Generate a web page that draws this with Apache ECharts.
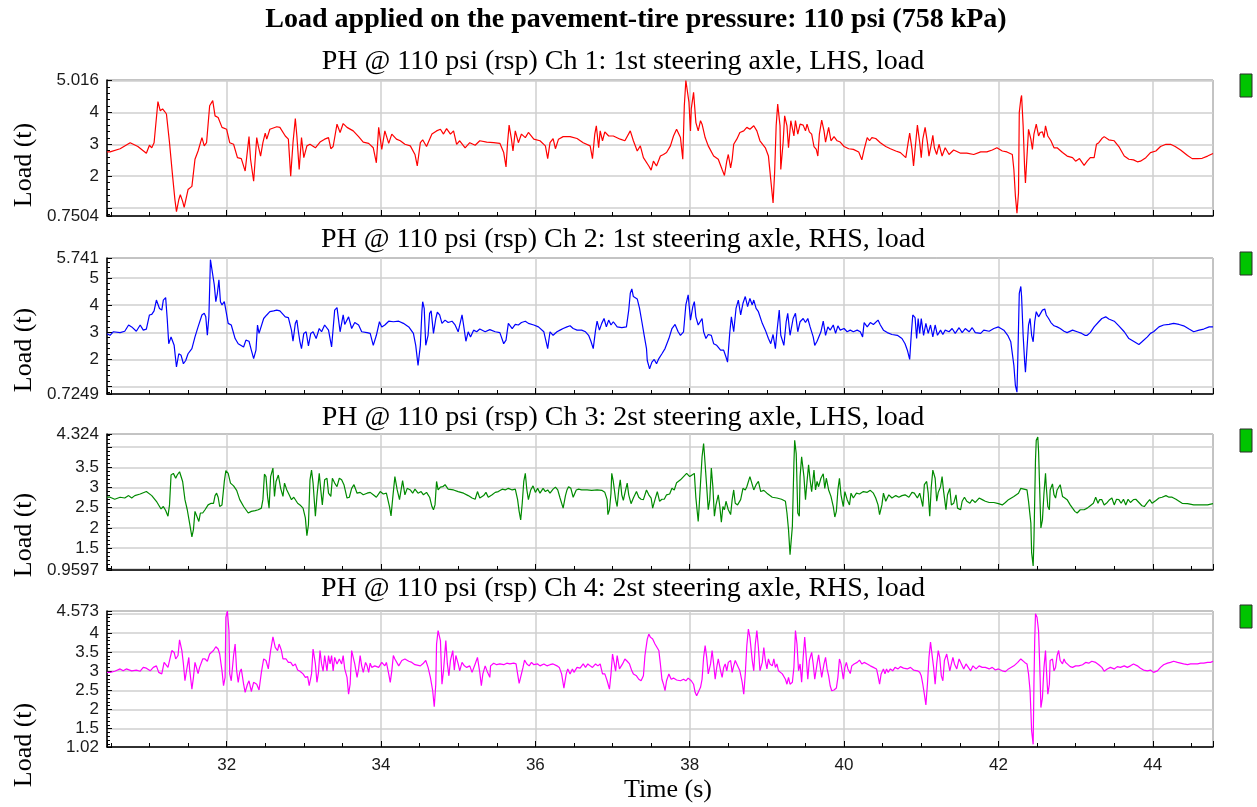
<!DOCTYPE html>
<html>
<head>
<meta charset="utf-8">
<script src="https://cdn.jsdelivr.net/npm/echarts@6/dist/echarts.min.js"></script>
<style>
  html, body { margin: 0; padding: 0; background: #fff; }
  #chart { width: 1257px; height: 807px; }
</style>
</head>
<body>
<div id="chart"></div>
<script>
// 数据：时间 (s) 与载荷 (t)
const mainTitle = 'Load applied on the pavement-tire pressure: 110 psi (758 kPa)';
const panelTitles = [
    'PH @ 110 psi (rsp) Ch 1: 1st steering axle, LHS, load',
    'PH @ 110 psi (rsp) Ch 2: 1st steering axle, RHS, load',
    'PH @ 110 psi (rsp) Ch 3: 2st steering axle, LHS, load',
    'PH @ 110 psi (rsp) Ch 4: 2st steering axle, RHS, load'
];
const lineColors = ['#ff0000', '#0000ff', '#008a00', '#ff00ff'];
const timeRange = [30.45, 44.78];
const yMin = [0.7504, 0.7249, 0.9597, 1.02];
const yMax = [5.016, 5.741, 4.324, 4.573];
const ySplit = [4, 5, 7, 7];
const yHidden = [[1, 5], [1], [1, 4], [4.5]];   // 靠近边界的标签不显示

const ch1 = [[30.45,2.76],[30.49,2.76],[30.62,2.86],[30.75,3.05],[30.85,2.93],[30.96,2.72],[31.00,2.97],[31.03,2.89],[31.06,3.05],[31.11,4.34],[31.14,4.05],[31.17,4.11],[31.20,4.02],[31.22,3.95],[31.26,3.05],[31.30,2.0],[31.33,1.26],[31.35,0.89],[31.38,1.26],[31.40,1.42],[31.43,1.21],[31.45,1.02],[31.47,1.05],[31.50,1.58],[31.55,1.68],[31.59,2.53],[31.63,2.79],[31.68,3.21],[31.71,2.95],[31.74,3.05],[31.78,4.21],[31.82,4.37],[31.85,3.89],[31.89,3.84],[31.94,3.53],[32.00,3.47],[32.04,3.05],[32.09,3.0],[32.14,2.58],[32.19,2.55],[32.24,2.16],[32.26,2.11],[32.29,3.24],[32.31,2.53],[32.35,1.84],[32.39,3.21],[32.41,2.95],[32.44,2.63],[32.47,3.05],[32.50,3.35],[32.52,3.16],[32.56,3.47],[32.65,3.55],[32.69,3.53],[32.76,3.26],[32.80,3.16],[32.83,2.0],[32.86,3.05],[32.89,3.81],[32.91,3.26],[32.94,2.21],[32.97,3.21],[33.00,2.58],[33.04,2.95],[33.08,3.0],[33.15,2.89],[33.21,3.07],[33.27,3.16],[33.32,3.21],[33.35,2.86],[33.38,2.93],[33.43,3.63],[33.47,3.37],[33.51,3.65],[33.56,3.53],[33.64,3.42],[33.71,3.24],[33.77,3.07],[33.84,3.03],[33.90,2.89],[33.94,2.42],[33.97,3.53],[34.01,2.84],[34.05,3.42],[34.10,3.03],[34.14,3.32],[34.20,3.16],[34.25,3.11],[34.31,3.0],[34.38,2.95],[34.44,2.68],[34.47,2.32],[34.51,3.05],[34.54,3.14],[34.59,2.93],[34.66,3.32],[34.72,3.42],[34.77,3.47],[34.81,3.32],[34.85,3.49],[34.90,3.32],[34.94,3.42],[34.98,3.0],[35.02,3.11],[35.09,2.89],[35.15,3.05],[35.22,2.97],[35.28,3.11],[35.37,3.07],[35.46,3.05],[35.54,3.03],[35.59,2.74],[35.62,2.29],[35.64,3.05],[35.66,3.6],[35.69,3.16],[35.71,2.79],[35.74,3.42],[35.78,3.05],[35.82,3.32],[35.87,3.21],[35.91,3.37],[35.98,3.16],[36.06,3.11],[36.13,2.95],[36.16,2.55],[36.19,3.05],[36.23,3.18],[36.26,2.86],[36.30,3.16],[36.36,3.24],[36.45,3.24],[36.54,3.18],[36.62,3.05],[36.71,2.95],[36.74,2.55],[36.77,3.32],[36.79,3.58],[36.82,2.89],[36.84,3.42],[36.87,3.11],[36.90,3.39],[36.95,3.26],[37.01,3.26],[37.10,3.16],[37.16,3.11],[37.23,3.42],[37.27,3.11],[37.32,2.79],[37.36,2.95],[37.40,2.58],[37.47,2.32],[37.50,2.19],[37.53,2.47],[37.57,2.32],[37.62,2.63],[37.66,2.68],[37.70,2.74],[37.75,2.95],[37.79,3.26],[37.83,3.47],[37.88,3.21],[37.91,2.53],[37.93,4.21],[37.95,5.0],[37.97,5.0],[37.99,4.32],[38.01,3.42],[38.02,4.11],[38.05,4.63],[38.08,3.68],[38.11,3.42],[38.14,3.74],[38.16,3.63],[38.20,3.21],[38.24,2.95],[38.31,2.63],[38.37,2.53],[38.42,2.21],[38.45,2.02],[38.48,2.47],[38.50,2.68],[38.53,2.26],[38.55,2.53],[38.57,3.0],[38.61,3.16],[38.65,3.37],[38.70,3.42],[38.74,3.53],[38.78,3.47],[38.83,3.58],[38.87,3.42],[38.91,3.11],[38.98,2.89],[39.02,2.63],[39.05,1.89],[39.08,1.16],[39.10,2.11],[39.12,3.58],[39.14,4.26],[39.17,3.58],[39.18,2.21],[39.21,3.05],[39.23,3.89],[39.26,3.58],[39.28,2.89],[39.31,3.74],[39.35,3.26],[39.37,3.74],[39.40,3.32],[39.43,3.63],[39.47,3.6],[39.50,3.42],[39.52,3.63],[39.55,3.39],[39.58,3.32],[39.61,2.93],[39.64,2.84],[39.66,2.63],[39.68,3.32],[39.71,3.76],[39.74,3.42],[39.76,3.07],[39.80,3.53],[39.83,3.11],[39.87,3.24],[39.91,3.11],[39.95,3.07],[40.00,2.93],[40.06,2.86],[40.12,2.84],[40.19,2.76],[40.23,2.51],[40.26,2.84],[40.30,3.21],[40.33,3.11],[40.36,3.21],[40.41,3.18],[40.47,3.05],[40.54,2.93],[40.60,2.86],[40.67,2.79],[40.73,2.74],[40.80,2.58],[40.83,3.05],[40.85,3.35],[40.88,2.84],[40.90,2.32],[40.92,2.84],[40.95,3.6],[40.98,3.05],[41.00,2.58],[41.02,3.16],[41.05,3.53],[41.08,3.05],[41.10,2.63],[41.13,3.0],[41.15,3.28],[41.17,2.89],[41.20,2.68],[41.23,3.0],[41.27,2.63],[41.31,2.89],[41.36,2.68],[41.42,2.82],[41.51,2.72],[41.59,2.72],[41.68,2.68],[41.77,2.76],[41.85,2.76],[41.92,2.82],[41.98,2.89],[42.05,2.79],[42.11,2.76],[42.18,2.68],[42.20,2.21],[42.22,1.37],[42.24,0.84],[42.26,1.47],[42.27,4.0],[42.29,4.42],[42.30,4.53],[42.32,3.58],[42.34,2.21],[42.35,1.79],[42.37,2.63],[42.39,3.47],[42.42,3.16],[42.44,2.84],[42.46,3.32],[42.49,3.63],[42.52,3.26],[42.54,3.37],[42.57,3.39],[42.59,3.21],[42.61,3.58],[42.64,3.26],[42.68,3.11],[42.72,2.89],[42.76,2.89],[42.83,2.74],[42.89,2.63],[42.96,2.58],[43.00,2.47],[43.05,2.55],[43.11,2.34],[43.15,2.47],[43.19,2.58],[43.24,2.58],[43.27,3.0],[43.30,3.05],[43.34,3.18],[43.37,3.24],[43.43,3.14],[43.50,3.11],[43.56,2.93],[43.63,2.63],[43.69,2.53],[43.75,2.51],[43.80,2.45],[43.84,2.47],[43.91,2.58],[43.97,2.74],[44.04,2.79],[44.10,2.93],[44.17,3.0],[44.23,3.0],[44.29,2.93],[44.36,2.82],[44.45,2.65],[44.51,2.55],[44.58,2.55],[44.64,2.56],[44.71,2.63],[44.78,2.71]];

const ch2 = [[30.45,2.95],[30.49,2.89],[30.53,3.02],[30.62,2.99],[30.68,3.04],[30.73,3.27],[30.77,3.2],[30.83,3.04],[30.88,3.27],[30.92,3.08],[30.96,3.12],[31.00,3.64],[31.03,3.66],[31.06,3.79],[31.09,4.19],[31.13,3.88],[31.16,3.82],[31.18,4.19],[31.21,4.28],[31.23,3.51],[31.25,2.58],[31.28,2.83],[31.30,2.89],[31.32,2.52],[31.35,1.72],[31.38,2.21],[31.41,2.15],[31.44,1.84],[31.47,1.96],[31.50,2.21],[31.55,2.40],[31.59,2.83],[31.63,3.2],[31.68,3.64],[31.71,3.7],[31.73,3.57],[31.75,2.89],[31.77,3.57],[31.79,5.68],[31.81,5.62],[31.84,4.75],[31.86,4.13],[31.88,4.44],[31.90,4.94],[31.92,4.13],[31.94,4.01],[31.97,4.13],[31.99,3.82],[32.02,3.33],[32.06,3.27],[32.11,2.77],[32.15,2.58],[32.22,2.46],[32.25,2.71],[32.29,2.67],[32.32,2.34],[32.35,2.03],[32.38,2.34],[32.40,3.27],[32.42,2.96],[32.48,3.51],[32.52,3.64],[32.56,3.76],[32.61,3.79],[32.65,3.82],[32.69,3.79],[32.76,3.57],[32.80,3.54],[32.84,3.08],[32.86,2.67],[32.89,3.33],[32.91,3.45],[32.93,3.02],[32.95,2.65],[32.97,2.40],[33.00,2.96],[33.03,3.02],[33.06,2.50],[33.09,2.96],[33.12,3.02],[33.16,2.77],[33.20,3.14],[33.23,3.02],[33.27,3.27],[33.32,3.08],[33.36,2.46],[33.40,3.82],[33.43,3.91],[33.47,3.02],[33.51,3.64],[33.53,3.29],[33.58,3.57],[33.62,3.14],[33.66,3.36],[33.71,3.27],[33.75,3.02],[33.82,2.99],[33.86,2.96],[33.90,2.52],[33.92,2.46],[33.94,2.89],[33.98,3.39],[34.01,3.2],[34.05,3.27],[34.10,3.41],[34.16,3.39],[34.23,3.41],[34.29,3.33],[34.36,3.2],[34.42,2.96],[34.45,2.52],[34.48,1.78],[34.51,2.52],[34.53,3.76],[34.54,4.13],[34.56,3.88],[34.58,2.52],[34.61,2.89],[34.63,3.70],[34.65,3.79],[34.68,2.96],[34.71,3.51],[34.73,3.74],[34.76,3.64],[34.79,3.33],[34.83,3.45],[34.87,3.36],[34.92,3.41],[34.96,3.27],[35.00,3.02],[35.05,3.64],[35.07,3.27],[35.10,2.67],[35.13,3.02],[35.16,2.83],[35.20,3.08],[35.24,3.02],[35.28,3.12],[35.35,3.02],[35.41,3.10],[35.48,3.02],[35.54,2.99],[35.59,2.58],[35.62,2.71],[35.65,3.33],[35.70,3.14],[35.74,3.29],[35.78,3.27],[35.82,3.36],[35.87,3.41],[35.91,3.33],[35.98,3.27],[36.04,3.2],[36.11,3.02],[36.14,2.65],[36.16,2.40],[36.19,3.02],[36.23,2.89],[36.28,3.02],[36.32,3.08],[36.36,3.14],[36.41,3.2],[36.45,3.24],[36.49,3.14],[36.54,3.08],[36.60,3.08],[36.65,3.02],[36.69,2.89],[36.72,2.67],[36.75,2.40],[36.78,3.08],[36.80,3.41],[36.83,3.08],[36.86,3.33],[36.89,3.51],[36.92,3.2],[36.95,3.45],[36.98,3.27],[37.01,3.39],[37.06,3.2],[37.12,3.17],[37.18,3.2],[37.21,3.82],[37.23,4.44],[37.25,4.6],[37.27,4.32],[37.32,4.23],[37.35,3.88],[37.38,3.39],[37.41,2.89],[37.44,2.40],[37.45,1.96],[37.48,1.65],[37.51,1.90],[37.54,2.0],[37.57,1.84],[37.60,2.03],[37.64,2.21],[37.68,2.40],[37.73,2.77],[37.77,3.14],[37.81,3.29],[37.85,3.02],[37.88,2.89],[37.92,3.02],[37.95,4.01],[37.98,4.38],[38.01,3.45],[38.04,3.95],[38.06,4.13],[38.08,3.57],[38.11,3.27],[38.16,3.51],[38.18,3.02],[38.21,2.77],[38.24,2.92],[38.28,2.89],[38.31,2.58],[38.35,2.52],[38.40,2.34],[38.44,2.34],[38.47,2.09],[38.49,1.90],[38.52,3.02],[38.54,3.57],[38.57,3.02],[38.60,3.88],[38.63,4.19],[38.66,3.64],[38.69,4.07],[38.72,4.32],[38.75,3.95],[38.78,4.25],[38.81,4.01],[38.83,4.19],[38.86,3.88],[38.89,3.76],[38.94,3.33],[38.98,3.08],[39.02,2.77],[39.05,2.58],[39.08,2.92],[39.11,2.40],[39.13,3.02],[39.16,3.82],[39.18,2.89],[39.22,2.52],[39.25,3.39],[39.27,3.70],[39.30,2.89],[39.34,3.51],[39.37,3.70],[39.40,3.02],[39.43,3.39],[39.47,3.51],[39.50,3.36],[39.53,3.51],[39.56,3.2],[39.60,2.83],[39.62,2.52],[39.65,2.67],[39.67,2.65],[39.70,3.02],[39.73,3.41],[39.76,2.89],[39.79,3.2],[39.82,3.08],[39.86,3.27],[39.89,2.96],[39.92,3.24],[39.95,3.08],[40.00,3.14],[40.04,3.02],[40.08,3.08],[40.12,3.02],[40.17,3.08],[40.21,3.02],[40.24,2.83],[40.26,3.36],[40.30,3.2],[40.34,3.36],[40.38,3.29],[40.44,3.45],[40.47,3.27],[40.51,3.08],[40.56,2.99],[40.62,2.92],[40.69,2.89],[40.75,2.77],[40.79,2.58],[40.82,2.34],[40.85,2.0],[40.87,2.89],[40.89,3.64],[40.92,3.54],[40.94,2.77],[40.96,3.51],[40.98,2.96],[41.00,3.51],[41.03,2.89],[41.06,3.33],[41.09,2.96],[41.12,3.27],[41.15,2.83],[41.18,3.27],[41.21,2.89],[41.25,3.08],[41.28,2.92],[41.31,3.08],[41.36,3.02],[41.40,3.14],[41.44,2.96],[41.49,3.17],[41.53,2.99],[41.57,3.14],[41.62,3.02],[41.66,3.17],[41.70,2.99],[41.77,2.96],[41.81,3.08],[41.88,3.04],[41.94,3.14],[42.00,3.2],[42.07,3.08],[42.12,2.89],[42.16,2.65],[42.20,1.78],[42.22,1.03],[42.24,0.79],[42.25,1.90],[42.27,4.44],[42.29,4.69],[42.30,4.32],[42.32,2.89],[42.34,1.90],[42.35,1.53],[42.37,2.40],[42.39,3.27],[42.41,3.51],[42.43,2.89],[42.45,2.65],[42.47,3.39],[42.49,3.76],[42.52,3.57],[42.54,3.51],[42.57,3.82],[42.60,3.86],[42.62,3.64],[42.65,3.51],[42.68,3.36],[42.72,3.24],[42.76,3.2],[42.80,3.14],[42.85,3.04],[42.89,2.99],[42.96,3.08],[43.02,3.02],[43.08,2.96],[43.12,2.89],[43.15,2.89],[43.19,2.99],[43.24,3.2],[43.30,3.39],[43.34,3.51],[43.39,3.57],[43.43,3.49],[43.50,3.41],[43.56,3.24],[43.63,3.02],[43.69,2.77],[43.75,2.67],[43.82,2.55],[43.86,2.65],[43.93,2.83],[43.97,2.96],[44.01,3.02],[44.08,3.2],[44.14,3.27],[44.21,3.29],[44.27,3.33],[44.34,3.29],[44.40,3.24],[44.47,3.12],[44.53,3.02],[44.60,3.08],[44.66,3.12],[44.73,3.2],[44.78,3.2]];

const ch3 = [[30.45,2.76],[30.49,2.76],[30.55,2.71],[30.62,2.76],[30.68,2.74],[30.73,2.80],[30.77,2.74],[30.81,2.80],[30.88,2.84],[30.96,2.90],[31.03,2.80],[31.09,2.66],[31.15,2.47],[31.18,2.53],[31.21,2.43],[31.24,2.29],[31.26,2.57],[31.28,3.31],[31.31,3.35],[31.34,3.23],[31.36,3.31],[31.39,3.39],[31.43,3.15],[31.46,2.70],[31.49,2.45],[31.52,2.12],[31.55,1.78],[31.57,1.96],[31.59,2.41],[31.61,2.45],[31.64,2.16],[31.66,2.37],[31.69,2.37],[31.72,2.45],[31.76,2.57],[31.80,2.61],[31.83,2.61],[31.85,2.80],[31.87,2.86],[31.89,2.76],[31.91,2.53],[31.94,2.57],[31.97,3.15],[31.99,3.42],[32.02,3.35],[32.05,3.11],[32.09,3.04],[32.13,2.93],[32.17,2.70],[32.22,2.53],[32.28,2.37],[32.32,2.41],[32.37,2.43],[32.41,2.45],[32.45,2.49],[32.47,2.70],[32.49,3.33],[32.51,3.27],[32.53,2.78],[32.55,2.49],[32.57,3.27],[32.60,3.48],[32.62,2.78],[32.64,3.15],[32.67,3.31],[32.70,2.98],[32.73,2.78],[32.75,3.11],[32.78,2.94],[32.81,2.82],[32.84,2.70],[32.87,2.76],[32.92,2.61],[32.95,2.57],[32.99,2.49],[33.02,2.25],[33.04,1.81],[33.06,2.08],[33.08,3.19],[33.10,3.43],[33.12,3.11],[33.15,2.29],[33.17,2.78],[33.20,3.35],[33.22,2.94],[33.24,2.57],[33.27,3.19],[33.30,3.23],[33.32,2.86],[33.35,2.78],[33.37,3.23],[33.40,3.11],[33.43,3.02],[33.46,3.23],[33.49,3.19],[33.52,3.07],[33.56,2.74],[33.59,2.76],[33.62,2.98],[33.65,3.07],[33.69,2.86],[33.73,2.88],[33.77,2.82],[33.82,2.86],[33.86,2.88],[33.90,2.82],[33.94,2.76],[33.99,2.90],[34.03,2.84],[34.07,2.86],[34.11,2.53],[34.13,2.30],[34.15,2.70],[34.18,3.27],[34.21,2.94],[34.24,2.70],[34.28,3.17],[34.31,2.82],[34.34,2.98],[34.38,2.94],[34.41,2.86],[34.44,2.96],[34.48,2.86],[34.52,2.90],[34.55,2.82],[34.59,2.88],[34.63,2.76],[34.66,2.53],[34.68,2.45],[34.70,2.57],[34.72,3.15],[34.74,2.94],[34.77,3.01],[34.80,3.02],[34.83,3.07],[34.87,2.96],[34.94,2.94],[35.00,2.90],[35.07,2.86],[35.13,2.80],[35.18,2.74],[35.22,2.71],[35.25,2.90],[35.28,2.74],[35.33,2.80],[35.36,2.88],[35.39,2.76],[35.44,2.82],[35.48,2.88],[35.52,2.90],[35.57,2.96],[35.61,2.94],[35.65,2.98],[35.70,2.94],[35.74,2.96],[35.77,2.70],[35.79,2.41],[35.81,2.20],[35.83,2.61],[35.85,3.15],[35.87,3.35],[35.89,2.94],[35.91,2.70],[35.94,2.94],[35.97,3.04],[36.00,2.88],[36.03,2.98],[36.06,2.86],[36.10,2.98],[36.13,2.90],[36.16,2.94],[36.19,2.86],[36.23,2.96],[36.26,3.01],[36.29,2.94],[36.32,2.74],[36.36,2.49],[36.39,2.80],[36.41,2.94],[36.43,3.02],[36.46,2.98],[36.49,2.76],[36.53,2.94],[36.56,2.96],[36.60,2.94],[36.67,2.94],[36.73,2.93],[36.80,2.94],[36.86,2.93],[36.90,2.88],[36.93,2.70],[36.94,2.33],[36.96,2.45],[36.98,2.86],[36.99,3.35],[37.01,3.15],[37.04,2.70],[37.06,2.53],[37.08,2.94],[37.10,3.19],[37.12,2.82],[37.14,2.68],[37.16,2.86],[37.19,3.11],[37.21,2.82],[37.24,2.60],[37.27,2.74],[37.31,2.90],[37.34,2.76],[37.37,2.71],[37.40,2.70],[37.44,2.94],[37.47,2.82],[37.50,2.74],[37.52,2.49],[37.55,2.70],[37.58,2.90],[37.61,2.66],[37.64,2.71],[37.67,2.71],[37.70,2.82],[37.74,2.84],[37.77,2.98],[37.80,2.94],[37.83,3.12],[37.88,3.19],[37.92,3.27],[37.96,3.35],[38.00,3.27],[38.03,3.31],[38.06,3.35],[38.08,2.74],[38.11,2.16],[38.12,2.45],[38.14,3.11],[38.16,3.76],[38.18,4.09],[38.19,3.84],[38.22,3.02],[38.24,2.45],[38.26,2.70],[38.28,3.48],[38.30,3.02],[38.32,2.29],[38.34,2.57],[38.37,2.82],[38.39,2.53],[38.41,2.14],[38.43,2.53],[38.45,2.45],[38.47,2.66],[38.50,2.45],[38.53,2.33],[38.55,2.70],[38.57,2.94],[38.59,2.61],[38.62,2.57],[38.66,2.70],[38.69,2.98],[38.72,2.94],[38.74,3.02],[38.78,3.27],[38.80,3.29],[38.83,2.94],[38.86,3.07],[38.89,3.15],[38.92,2.90],[38.96,2.93],[39.00,2.86],[39.07,2.76],[39.13,2.74],[39.19,2.71],[39.24,2.66],[39.26,2.37],[39.28,1.96],[39.30,1.34],[39.33,2.04],[39.35,3.60],[39.36,4.17],[39.38,3.84],[39.40,2.37],[39.42,2.29],[39.43,3.27],[39.45,3.76],[39.48,3.27],[39.50,2.70],[39.52,3.15],[39.54,3.56],[39.56,3.19],[39.58,2.90],[39.61,3.43],[39.63,2.94],[39.65,3.15],[39.67,3.02],[39.70,3.23],[39.73,3.34],[39.75,2.98],[39.77,3.23],[39.80,2.94],[39.83,2.78],[39.86,2.53],[39.88,2.27],[39.90,2.41],[39.92,2.94],[39.94,3.23],[39.96,2.82],[39.99,2.53],[40.01,2.90],[40.04,2.70],[40.07,2.57],[40.09,2.86],[40.12,2.74],[40.16,2.86],[40.20,2.84],[40.25,2.90],[40.30,2.88],[40.34,2.93],[40.38,2.86],[40.41,2.74],[40.44,2.57],[40.46,2.33],[40.49,2.57],[40.51,2.86],[40.54,2.66],[40.58,2.82],[40.62,2.74],[40.67,2.80],[40.71,2.76],[40.75,2.80],[40.79,2.82],[40.84,2.76],[40.88,2.88],[40.91,2.86],[40.95,2.74],[40.98,2.86],[41.00,2.70],[41.02,2.53],[41.04,3.07],[41.07,3.15],[41.09,2.86],[41.11,2.29],[41.13,3.02],[41.15,3.43],[41.18,3.23],[41.20,2.66],[41.22,2.88],[41.25,3.02],[41.27,3.27],[41.29,2.90],[41.32,2.45],[41.34,2.82],[41.37,2.98],[41.39,2.57],[41.42,2.61],[41.45,2.82],[41.47,2.49],[41.51,2.45],[41.53,2.66],[41.56,2.76],[41.59,2.66],[41.63,2.61],[41.66,2.70],[41.70,2.63],[41.75,2.74],[41.79,2.70],[41.83,2.66],[41.88,2.63],[41.94,2.63],[42.00,2.60],[42.05,2.57],[42.09,2.63],[42.13,2.70],[42.20,2.78],[42.26,2.86],[42.29,2.98],[42.33,2.96],[42.37,2.94],[42.39,2.66],[42.42,2.12],[42.43,1.39],[42.45,1.06],[42.46,1.71],[42.48,3.68],[42.49,4.17],[42.51,4.25],[42.52,3.89],[42.54,2.61],[42.55,2.0],[42.57,2.20],[42.59,2.86],[42.61,3.35],[42.62,3.02],[42.64,2.53],[42.66,2.45],[42.67,2.94],[42.70,3.09],[42.72,2.82],[42.74,2.74],[42.76,2.94],[42.78,2.98],[42.80,3.07],[42.83,2.78],[42.86,2.74],[42.89,2.70],[42.93,2.57],[42.96,2.49],[42.99,2.41],[43.02,2.37],[43.06,2.45],[43.11,2.45],[43.15,2.49],[43.19,2.55],[43.23,2.61],[43.26,2.76],[43.29,2.61],[43.31,2.70],[43.34,2.70],[43.37,2.57],[43.41,2.63],[43.44,2.70],[43.47,2.74],[43.50,2.57],[43.53,2.71],[43.56,2.70],[43.59,2.61],[43.62,2.71],[43.65,2.57],[43.68,2.71],[43.71,2.63],[43.75,2.70],[43.78,2.71],[43.82,2.63],[43.86,2.55],[43.89,2.53],[43.93,2.63],[43.96,2.70],[43.99,2.61],[44.04,2.68],[44.08,2.74],[44.12,2.76],[44.17,2.80],[44.21,2.76],[44.25,2.76],[44.30,2.71],[44.34,2.66],[44.38,2.61],[44.45,2.60],[44.53,2.57],[44.62,2.57],[44.71,2.57],[44.78,2.60]];

const ch4 = [[30.45,2.97],[30.49,2.97],[30.55,3.0],[30.62,3.06],[30.66,3.01],[30.70,3.06],[30.77,3.01],[30.83,3.03],[30.88,3.0],[30.92,3.10],[30.96,3.08],[31.01,3.01],[31.05,3.10],[31.09,3.14],[31.12,2.97],[31.16,2.93],[31.19,3.23],[31.21,3.19],[31.24,3.10],[31.26,3.12],[31.29,3.54],[31.32,3.49],[31.34,3.32],[31.37,3.41],[31.39,3.82],[31.42,3.54],[31.44,3.19],[31.46,2.75],[31.48,3.01],[31.51,3.36],[31.52,3.06],[31.55,2.53],[31.57,2.84],[31.59,3.23],[31.61,3.19],[31.63,2.94],[31.65,3.10],[31.69,3.32],[31.72,3.32],[31.75,3.26],[31.78,3.45],[31.83,3.54],[31.86,3.64],[31.89,3.58],[31.91,3.45],[31.94,3.01],[31.96,2.62],[31.98,2.84],[31.99,4.41],[32.01,4.57],[32.03,4.06],[32.04,2.93],[32.06,2.75],[32.09,3.41],[32.11,3.71],[32.13,3.01],[32.15,2.71],[32.17,2.97],[32.19,3.06],[32.22,2.66],[32.24,2.45],[32.27,2.66],[32.29,2.75],[32.32,2.47],[32.35,2.71],[32.39,2.66],[32.42,2.51],[32.45,2.97],[32.48,3.32],[32.51,3.28],[32.54,3.06],[32.57,3.54],[32.60,3.90],[32.63,3.62],[32.66,3.54],[32.68,3.71],[32.71,3.54],[32.73,3.32],[32.77,3.32],[32.80,3.23],[32.83,3.23],[32.86,3.14],[32.89,3.19],[32.92,3.03],[32.95,3.0],[32.99,2.93],[33.02,2.84],[33.05,2.86],[33.07,2.62],[33.10,2.93],[33.12,3.58],[33.15,3.19],[33.17,2.71],[33.19,2.97],[33.21,3.54],[33.23,3.19],[33.25,3.0],[33.27,3.41],[33.30,3.01],[33.32,3.41],[33.34,3.19],[33.36,3.41],[33.38,3.01],[33.40,3.36],[33.43,3.19],[33.46,3.32],[33.49,3.19],[33.51,3.41],[33.53,3.06],[33.56,2.84],[33.58,2.40],[33.60,2.66],[33.62,3.54],[33.64,3.58],[33.66,3.19],[33.69,2.84],[33.71,3.06],[33.73,3.41],[33.75,3.14],[33.77,2.97],[33.80,3.23],[33.82,3.14],[33.84,2.97],[33.86,3.21],[33.88,3.10],[33.92,3.14],[33.97,3.10],[34.01,3.23],[34.05,3.14],[34.07,3.23],[34.10,2.93],[34.12,2.71],[34.14,3.01],[34.16,3.41],[34.18,3.32],[34.23,3.14],[34.27,3.28],[34.31,3.32],[34.36,3.26],[34.40,3.23],[34.44,3.17],[34.46,3.19],[34.51,3.14],[34.55,3.21],[34.58,3.28],[34.61,3.10],[34.64,2.84],[34.67,2.49],[34.69,2.07],[34.71,2.66],[34.72,3.71],[34.74,4.06],[34.77,3.80],[34.79,2.66],[34.81,3.01],[34.83,3.54],[34.84,3.80],[34.86,3.19],[34.88,2.88],[34.90,3.28],[34.93,3.54],[34.95,3.03],[34.97,3.41],[35.00,3.19],[35.02,3.01],[35.05,3.23],[35.08,3.14],[35.11,3.10],[35.15,3.14],[35.18,2.97],[35.20,3.01],[35.22,3.19],[35.25,3.36],[35.28,2.97],[35.30,2.62],[35.32,2.93],[35.35,3.14],[35.38,2.97],[35.41,2.84],[35.42,3.14],[35.46,3.21],[35.50,3.17],[35.54,3.19],[35.59,3.17],[35.63,3.21],[35.67,3.19],[35.72,3.21],[35.75,3.19],[35.77,2.93],[35.79,2.68],[35.81,2.71],[35.84,3.10],[35.86,3.29],[35.89,3.19],[35.92,3.14],[35.95,3.23],[35.98,3.17],[36.03,3.19],[36.06,3.14],[36.11,3.19],[36.15,3.14],[36.19,3.17],[36.23,3.19],[36.28,3.14],[36.31,3.10],[36.34,2.93],[36.37,2.56],[36.40,2.93],[36.42,3.06],[36.45,2.93],[36.48,3.06],[36.50,2.97],[36.54,3.10],[36.58,3.08],[36.62,3.19],[36.65,3.10],[36.68,3.19],[36.71,3.14],[36.74,3.10],[36.78,3.19],[36.81,3.14],[36.84,3.19],[36.87,2.93],[36.90,2.93],[36.93,2.75],[36.96,2.53],[36.98,2.93],[37.00,3.45],[37.02,3.23],[37.04,3.0],[37.06,3.41],[37.09,3.06],[37.11,3.01],[37.13,3.19],[37.16,3.32],[37.19,3.26],[37.22,3.19],[37.25,3.01],[37.27,2.93],[37.31,2.88],[37.34,2.79],[37.37,2.75],[37.40,2.88],[37.42,3.41],[37.45,3.84],[37.47,3.97],[37.49,3.89],[37.52,3.84],[37.55,3.71],[37.57,3.67],[37.60,3.54],[37.62,3.19],[37.64,2.79],[37.66,2.66],[37.68,2.49],[37.70,2.75],[37.73,2.93],[37.76,2.79],[37.79,2.82],[37.83,2.77],[37.88,2.75],[37.92,2.79],[37.95,2.75],[37.98,2.82],[38.02,2.75],[38.05,2.66],[38.07,2.45],[38.09,2.36],[38.11,2.40],[38.14,2.58],[38.16,2.79],[38.18,3.36],[38.20,3.67],[38.22,3.36],[38.24,2.93],[38.27,3.19],[38.29,3.54],[38.31,3.19],[38.33,2.79],[38.35,3.10],[38.37,3.32],[38.40,3.01],[38.42,2.84],[38.44,3.10],[38.46,3.19],[38.48,3.01],[38.50,3.23],[38.53,3.28],[38.55,2.97],[38.57,3.14],[38.59,3.28],[38.61,3.19],[38.63,3.14],[38.65,3.01],[38.68,2.71],[38.70,2.40],[38.72,2.93],[38.74,3.67],[38.76,4.10],[38.78,3.89],[38.81,3.28],[38.83,3.01],[38.85,3.71],[38.87,4.06],[38.89,3.62],[38.91,3.01],[38.94,3.23],[38.96,3.62],[38.98,3.28],[39.00,3.06],[39.02,3.32],[39.04,3.19],[39.07,3.14],[39.09,3.32],[39.11,3.10],[39.13,3.19],[39.15,3.01],[39.17,2.97],[39.20,2.93],[39.22,2.97],[39.24,2.79],[39.26,2.66],[39.28,2.84],[39.30,2.66],[39.33,2.71],[39.35,3.10],[39.37,4.06],[39.39,3.71],[39.41,3.01],[39.43,3.19],[39.45,2.71],[39.47,3.36],[39.49,3.89],[39.51,3.36],[39.53,2.79],[39.55,3.28],[39.58,3.49],[39.60,3.19],[39.62,2.79],[39.65,3.19],[39.67,3.43],[39.69,3.14],[39.71,2.84],[39.74,3.19],[39.76,3.36],[39.78,3.06],[39.80,2.88],[39.82,2.62],[39.84,2.49],[39.87,2.51],[39.90,2.56],[39.92,2.84],[39.94,3.32],[39.96,3.19],[39.99,2.79],[40.01,3.10],[40.03,3.23],[40.05,3.06],[40.08,2.94],[40.10,3.14],[40.13,3.19],[40.17,3.23],[40.20,3.29],[40.23,3.19],[40.26,3.23],[40.30,3.19],[40.34,3.14],[40.38,3.10],[40.42,3.06],[40.44,2.88],[40.46,2.66],[40.48,2.93],[40.51,3.06],[40.53,2.93],[40.55,3.06],[40.57,2.97],[40.60,3.06],[40.63,3.01],[40.66,3.10],[40.70,3.06],[40.73,3.12],[40.77,3.08],[40.82,3.06],[40.86,3.10],[40.90,3.03],[40.95,3.01],[40.98,2.97],[41.00,2.88],[41.02,2.66],[41.04,2.40],[41.06,2.12],[41.08,2.66],[41.10,3.36],[41.12,3.76],[41.14,3.71],[41.16,3.10],[41.18,2.66],[41.20,3.19],[41.22,3.54],[41.24,3.36],[41.26,2.88],[41.28,2.75],[41.30,3.28],[41.33,3.45],[41.35,3.23],[41.37,3.01],[41.39,3.19],[41.41,3.36],[41.43,3.19],[41.46,3.06],[41.49,3.32],[41.52,3.19],[41.55,3.06],[41.58,3.19],[41.61,3.10],[41.64,3.01],[41.67,3.14],[41.71,3.06],[41.75,3.14],[41.79,3.10],[41.83,3.10],[41.88,3.06],[41.92,3.10],[41.96,3.03],[42.00,3.06],[42.05,3.01],[42.09,2.99],[42.13,3.06],[42.20,3.14],[42.25,3.23],[42.29,3.32],[42.34,3.23],[42.37,3.19],[42.39,2.93],[42.41,2.49],[42.42,1.97],[42.43,1.44],[42.45,1.09],[42.46,2.66],[42.47,3.80],[42.48,4.50],[42.50,4.41],[42.52,4.06],[42.54,2.84],[42.55,2.05],[42.57,2.31],[42.59,3.10],[42.61,3.54],[42.62,3.10],[42.64,2.40],[42.66,2.66],[42.67,3.28],[42.70,3.32],[42.72,3.01],[42.74,3.10],[42.76,3.41],[42.78,3.54],[42.80,3.28],[42.83,3.19],[42.85,3.32],[42.87,3.23],[42.89,3.28],[42.93,3.12],[42.96,3.10],[43.00,3.14],[43.04,3.14],[43.09,3.17],[43.13,3.23],[43.17,3.21],[43.21,3.26],[43.26,3.23],[43.30,3.17],[43.34,3.10],[43.37,3.0],[43.41,3.06],[43.45,3.10],[43.50,3.06],[43.54,3.12],[43.58,3.10],[43.63,3.14],[43.67,3.10],[43.71,3.14],[43.75,3.19],[43.80,3.14],[43.84,3.08],[43.88,3.03],[43.93,3.01],[43.97,3.03],[44.01,2.97],[44.06,3.01],[44.10,3.10],[44.14,3.17],[44.19,3.21],[44.23,3.23],[44.27,3.26],[44.32,3.23],[44.36,3.21],[44.40,3.19],[44.45,3.17],[44.49,3.19],[44.53,3.19],[44.58,3.19],[44.62,3.21],[44.66,3.21],[44.71,3.23],[44.75,3.23],[44.78,3.26]];

const channels = [ch1, ch2, ch3, ch4];

// 布局（像素）
const gridTops = [80, 258, 434, 611];
const gridHeight = 136;
const titleMids = [62, 240, 418, 589];
const yNameMids = [165, 350, 535, 745];
const markerTops = [74, 252, 429, 605];

const serif = 'Liberation Serif, Times New Roman, serif';
const sans = 'Liberation Sans, Arial, sans-serif';

function hideLabel(list) {
    return function (v) {
        for (const h of list) {
            if (Math.abs(v - h) < 1e-6) return '';
        }
        return String(v);
    };
}

function buildOption() {
    const grids = [], xAxes = [], yAxes = [], series = [], graphics = [];

    // 主标题
    graphics.push({
        type: 'text', x: 636, y: 20,
        style: {
            text: mainTitle, font: 'bold 28px ' + serif, fill: '#000',
            align: 'center', verticalAlign: 'middle'
        }
    });

    channels.forEach((data, i) => {
        const isLast = i === channels.length - 1;
        grids.push({
            left: 107, right: 44, top: gridTops[i], height: gridHeight,
            show: true, borderColor: '#444', borderWidth: 1, backgroundColor: '#fff'
        });
        xAxes.push({
            type: 'value', gridIndex: i,
            min: timeRange[0], max: timeRange[1], splitNumber: 7,
            name: isLast ? 'Time (s)' : '',
            nameLocation: 'middle', nameGap: 30,
            nameTextStyle: { fontFamily: serif, fontSize: 26, color: '#000', padding: [0, 0, 0, 16] },
            axisLine: { show: true, onZero: false, lineStyle: { color: '#000', width: 1.5 } },
            axisTick: { show: true, inside: true, length: 6, lineStyle: { color: '#000' } },
            minorTick: { show: true, splitNumber: 4, length: 4, lineStyle: { color: '#000' } },
            splitLine: { show: true, lineStyle: { color: '#cfcfcf', width: 1.5 } },
            axisLabel: {
                show: isLast, showMinLabel: false, showMaxLabel: false,
                fontFamily: sans, fontSize: 17, color: '#1a1a1a', margin: 10
            }
        });
        yAxes.push({
            type: 'value', gridIndex: i,
            min: yMin[i], max: yMax[i], splitNumber: ySplit[i],
            axisLine: { show: true, lineStyle: { color: '#000', width: 1.5 } },
            axisTick: { show: true, inside: true, length: 5, lineStyle: { color: '#000' } },
            minorTick: { show: true, splitNumber: 5, length: 3, lineStyle: { color: '#000' } },
            splitLine: { show: true, lineStyle: { color: '#cfcfcf', width: 1.5 } },
            axisLabel: {
                fontFamily: sans, fontSize: 17, color: '#1a1a1a', margin: 8,
                showMinLabel: true, showMaxLabel: true,
                formatter: hideLabel(yHidden[i])
            }
        });
        series.push({
            type: 'line', xAxisIndex: i, yAxisIndex: i, data: data,
            showSymbol: false, symbol: 'none', smooth: false,
            lineStyle: { color: lineColors[i], width: 1.2 },
            silent: true, animation: false
        });
        // 分图标题
        graphics.push({
            type: 'text', x: 623, y: titleMids[i],
            style: {
                text: panelTitles[i], font: '28px ' + serif, fill: '#000',
                align: 'center', verticalAlign: 'middle'
            }
        });
        graphics.push({
            type: 'text', x: 24, y: yNameMids[i], rotation: Math.PI / 2,
            style: {
                text: 'Load (t)', font: '26px ' + serif, fill: '#000',
                align: 'center', verticalAlign: 'middle'
            }
        });
        graphics.push({
            type: 'rect',
            shape: { x: 1240, y: markerTops[i], width: 12, height: 23 },
            style: { fill: '#00c400', stroke: '#2a2a2a', lineWidth: 1 }
        });
    });

    return {
        backgroundColor: '#fff',
        animation: false,
        grid: grids,
        xAxis: xAxes,
        yAxis: yAxes,
        series: series,
        graphic: graphics
    };
}

document.addEventListener('DOMContentLoaded', function () {
    const chart = echarts.init(document.getElementById('chart'), null, { renderer: 'canvas' });
    chart.setOption(buildOption());
    window.addEventListener('resize', function () { chart.resize(); });
});
</script>
</body>
</html>
